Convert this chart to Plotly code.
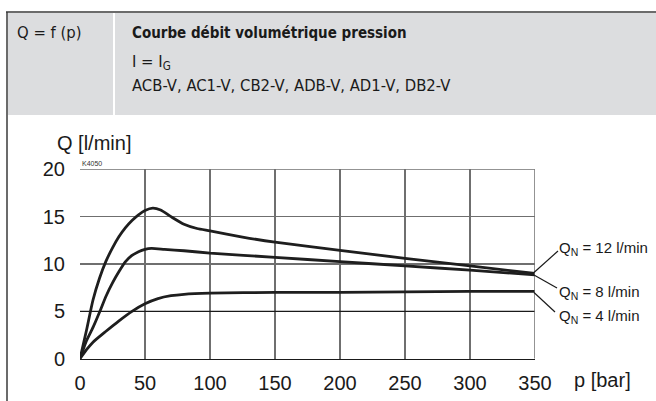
import plotly.graph_objects as go

W, H = 656, 401

# ---- data ----
p_12 = [0, 5, 10, 15, 20, 25, 30, 35, 40, 45, 50, 56, 62, 70, 80, 90, 100, 125, 150, 200, 250, 300, 350]
q_12 = [0, 3.0, 6.2, 8.5, 10.3, 11.7, 12.9, 13.85, 14.6, 15.2, 15.65, 15.9, 15.7, 15.0, 14.2, 13.75, 13.5, 12.85, 12.3, 11.45, 10.6, 9.8, 9.0]

p_8 = [0, 5, 10, 15, 20, 25, 30, 35, 40, 45, 50, 55, 65, 80, 100, 150, 200, 250, 300, 350]
q_8 = [0, 1.9, 3.3, 4.9, 6.6, 8.0, 9.2, 10.25, 10.9, 11.3, 11.55, 11.65, 11.55, 11.4, 11.15, 10.7, 10.25, 9.8, 9.35, 8.85]

p_4 = [0, 5, 10, 20, 30, 40, 50, 60, 70, 80, 100, 150, 200, 250, 300, 350]
q_4 = [0, 0.95, 1.75, 2.9, 4.0, 5.0, 5.8, 6.35, 6.65, 6.8, 6.92, 7.0, 7.0, 7.05, 7.1, 7.1]

x_ticks = [0, 50, 100, 150, 200, 250, 300, 350]
y_ticks = [0, 5, 10, 15, 20]
series_labels = ["Q<sub>N</sub> = 12 l/min", "Q<sub>N</sub> = 8 l/min", "Q<sub>N</sub> = 4 l/min"]


def fx(x):
    return x / W


def fy(y):
    return 1 - y / H


fig = go.Figure()
for p, q in [(p_12, q_12), (p_8, q_8), (p_4, q_4)]:
    fig.add_trace(go.Scatter(x=p, y=q, mode="lines",
                             line=dict(color="#1e1e1e", width=2.8, shape="spline", smoothing=0.6),
                             hoverinfo="skip", showlegend=False))

grid_col = "#6f6f6f"
tick_font = dict(family="Liberation Sans, Arial, sans-serif", size=20, color="#1a1a1a")

fig.update_layout(
    width=W, height=H,
    margin=dict(l=0, r=0, t=0, b=0, pad=0, autoexpand=False),
    paper_bgcolor="white", plot_bgcolor="white",
    xaxis=dict(domain=[80 / W, 535 / W], range=[0, 350], tickvals=x_ticks,
               showgrid=True, gridcolor=grid_col, gridwidth=1.5,
               showline=True, linecolor="#1a1a1a", linewidth=1.5, automargin=False,
               zeroline=False, ticks="", ticklabelstandoff=6, tickfont=tick_font),
    yaxis=dict(domain=[1 - 358.7 / H, 1 - 169.3 / H], range=[0, 20], tickvals=y_ticks,
               showgrid=True, gridcolor=grid_col, gridwidth=1.5, automargin=False,
               showline=False, zeroline=False, ticks="", ticklabelstandoff=14,
               tickfont=tick_font),
)

shapes = []
# header gray band
shapes.append(dict(type="rect", xref="paper", yref="paper", x0=fx(8), x1=fx(656), y0=fy(115), y1=fy(13),
                   fillcolor="#dcdddf", line=dict(width=0), layer="below"))
# divider in header
shapes.append(dict(type="line", xref="paper", yref="paper", x0=fx(114), x1=fx(114), y0=fy(115), y1=fy(13),
                   line=dict(color="white", width=2)))
# frame lines
shapes.append(dict(type="line", xref="paper", yref="paper", x0=fx(6), x1=fx(656), y0=fy(12), y1=fy(12),
                   line=dict(color="#3a3a3a", width=1.5)))
shapes.append(dict(type="line", xref="paper", yref="paper", x0=fx(7), x1=fx(7), y0=fy(12), y1=fy(401),
                   line=dict(color="#3a3a3a", width=1.5)))
# darker line at y=5
shapes.append(dict(type="line", xref="x", yref="y", x0=0, x1=350, y0=5, y1=5,
                   line=dict(color="#1a1a1a", width=1.2)))
# plot frame top/right
shapes.append(dict(type="line", xref="x", yref="y", x0=0, x1=350, y0=20, y1=20,
                   line=dict(color=grid_col, width=1.5)))
shapes.append(dict(type="line", xref="x", yref="y", x0=350, x1=350, y0=0, y1=20,
                   line=dict(color=grid_col, width=1.5)))
# leader lines
for (x0, y0, x1, y1) in [(534, 272.5, 558, 251), (534, 275, 557, 288), (534, 292.5, 555, 312)]:
    shapes.append(dict(type="line", xref="paper", yref="paper", x0=fx(x0), x1=fx(x1), y0=fy(y0), y1=fy(y1),
                       line=dict(color="#1a1a1a", width=1.2)))
fig.update_layout(shapes=shapes)

hdr = "DejaVu Sans Condensed, Liberation Sans Narrow, sans-serif"
hsize = 16.5
ann = []
ann.append(dict(text="Q = f (p)", x=fx(15), y=fy(33), xref="paper", yref="paper", xanchor="left", yanchor="middle",
                showarrow=False, font=dict(family=hdr, size=hsize, color="#1a1a1a")))
ann.append(dict(text="<b>Courbe débit volumétrique pression</b>", x=fx(130), y=fy(33), xref="paper", yref="paper",
                xanchor="left", yanchor="middle", showarrow=False, font=dict(family=hdr, size=15, color="#1a1a1a")))
ann.append(dict(text="I = I<sub>G</sub>", x=fx(130), y=fy(62), xref="paper", yref="paper",
                xanchor="left", yanchor="middle", showarrow=False, font=dict(family=hdr, size=hsize, color="#1a1a1a")))
ann.append(dict(text="ACB-V, AC1-V, CB2-V, ADB-V, AD1-V, DB2-V", x=fx(130), y=fy(85), xref="paper", yref="paper",
                xanchor="left", yanchor="middle", showarrow=False, font=dict(family=hdr, size=hsize, color="#1a1a1a")))
ann.append(dict(text="Q [l/min]", x=fx(55), y=fy(143), xref="paper", yref="paper", xanchor="left", yanchor="middle",
                showarrow=False, font=tick_font))
ann.append(dict(text="p [bar]", x=fx(572), y=fy(380), xref="paper", yref="paper", xanchor="left", yanchor="middle",
                showarrow=False, font=tick_font))
ann.append(dict(text="K4050", x=fx(80), y=fy(163), xref="paper", yref="paper", xanchor="left", yanchor="middle",
                showarrow=False, font=dict(family="Liberation Sans, Arial, sans-serif", size=7, color="#333")))
for lbl, yy in zip(series_labels, [249, 292, 316]):
    ann.append(dict(text=lbl, x=fx(557), y=fy(yy), xref="paper", yref="paper", xanchor="left", yanchor="middle",
                    showarrow=False, font=dict(family="Liberation Sans, Arial, sans-serif", size=15, color="#1a1a1a")))
fig.update_layout(annotations=ann)

fig.write_html("out.html", config={"displayModeBar": False, "staticPlot": True},
               post_script="document.body.style.margin='0';document.body.style.overflow='hidden';")
